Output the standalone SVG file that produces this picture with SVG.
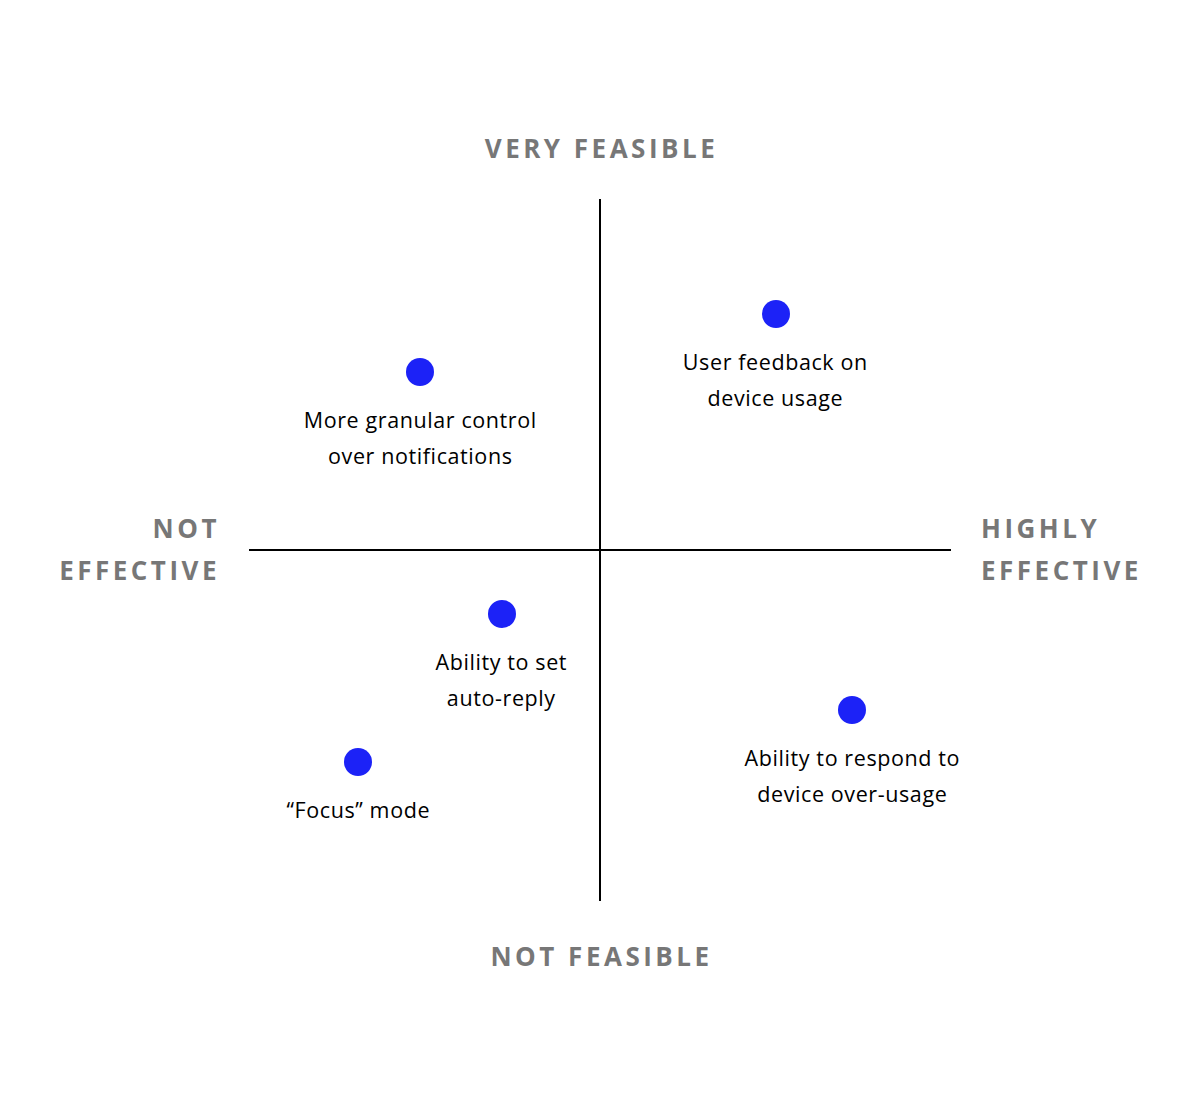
<svg xmlns="http://www.w3.org/2000/svg" width="1200" height="1096" viewBox="0 0 1200 1096">
<style>
.ax{stroke:#000;stroke-width:2;fill:none}
.dot{fill:#1c22f7}
.lbl{font-family:"Open Sans","Liberation Sans",sans-serif;font-size:21.5px;fill:#000;text-anchor:middle;letter-spacing:0.6px}
.hd{font-family:"Open Sans","Liberation Sans",sans-serif;font-size:26px;font-weight:bold;fill:#777;letter-spacing:3.5px}
</style>
<rect width="1200" height="1096" fill="#fff"/>
<g id="connectors">
<line class="ax" x1="600" y1="199" x2="600" y2="901"/>
<line class="ax" x1="249" y1="550" x2="951" y2="550"/>
</g>
<g id="axis-top"><text class="hd" x="601.5" y="158" text-anchor="middle">VERY FEASIBLE</text></g>
<g id="axis-bottom"><text class="hd" x="601.5" y="966" text-anchor="middle">NOT FEASIBLE</text></g>
<g id="axis-left"><text class="hd" x="220" y="538" text-anchor="end">NOT</text><text class="hd" x="220" y="580" text-anchor="end">EFFECTIVE</text></g>
<g id="axis-right"><text class="hd" x="981" y="538">HIGHLY</text><text class="hd" x="981" y="580">EFFECTIVE</text></g>
<g id="node-feedback"><circle class="dot" cx="776" cy="314" r="14"/><text class="lbl" x="775.3" y="370">User feedback on</text><text class="lbl" x="775.3" y="406">device usage</text></g>
<g id="node-granular"><circle class="dot" cx="420" cy="372" r="14"/><text class="lbl" x="420.3" y="428">More granular control</text><text class="lbl" x="420.3" y="464">over notifications</text></g>
<g id="node-autoreply"><circle class="dot" cx="502" cy="614" r="14"/><text class="lbl" x="501.3" y="670">Ability to set</text><text class="lbl" x="501.3" y="706">auto-reply</text></g>
<g id="node-respond"><circle class="dot" cx="852" cy="710" r="14"/><text class="lbl" x="852.3" y="766">Ability to respond to</text><text class="lbl" x="852.3" y="802">device over-usage</text></g>
<g id="node-focus"><circle class="dot" cx="358" cy="762" r="14"/><text class="lbl" x="358.3" y="818">“Focus” mode</text></g>
</svg>
